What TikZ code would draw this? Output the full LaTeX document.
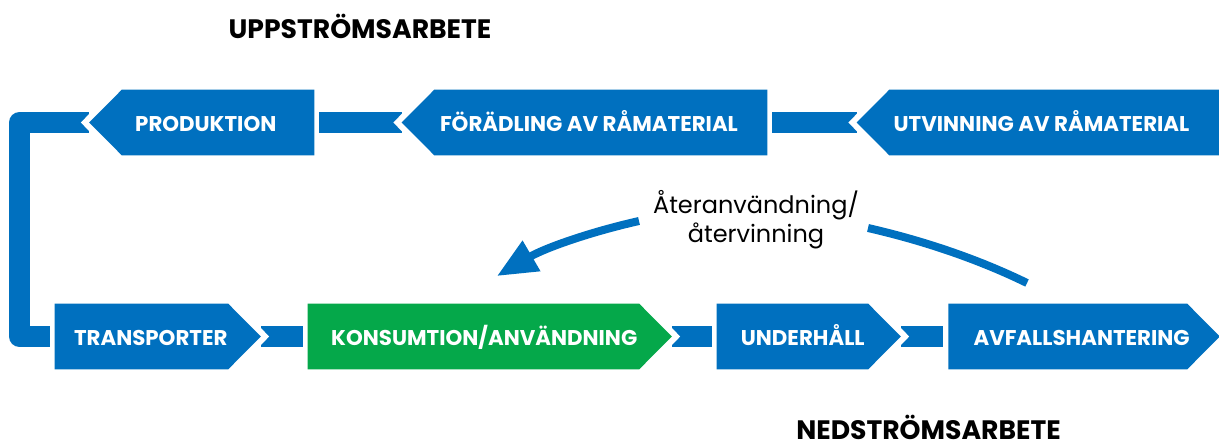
\documentclass[tikz,border=0pt]{standalone}
\usepackage{fontspec}
\setmainfont{Poppins}
\usetikzlibrary{arrows.meta}
\definecolor{flowblue}{HTML}{0070BF}
\definecolor{flowgreen}{HTML}{05A84A}
\pgfdeclarelayer{bandlayer}
\pgfdeclarelayer{halolayer}
\pgfdeclarelayer{filllayer}
\pgfsetlayers{bandlayer,halolayer,filllayer,main}
\tikzset{
  x=0.75pt,y=-0.75pt,
  stagebox/.style={minimum height=48.75pt,inner sep=0pt,text=white,
    font=\fontsize{16}{19}\selectfont\bfseries,text height=13.6pt,text depth=0pt},
  band/.style={draw=flowblue,line width=15.75pt,line join=round},
  halo/.style={draw=white,line width=9pt,line join=miter,miter limit=10},
  title/.style={inner sep=0pt,anchor=base,font=\fontsize{20}{24}\selectfont\bfseries,text=black},
  note/.style={inner sep=0pt,align=center,text=black,font=\fontsize{18}{21.75}\selectfont},
  loopline/.style={draw=flowblue,line width=6pt}
}
% #1 name, #2 colour, #3 left x, #4 right x, #5 centre y, #6 left kern, #7 right kern, #8 text
\newcommand{\stagenode}[8]{%
  \node[stagebox,minimum width={(#4-#3)*0.75pt}] (#1) at ({(#3+#4)/2},#5) {\hspace*{#6pt}#8\hspace*{#7pt}};}
\newcommand{\leftshape}[2]{%
  \begin{pgfonlayer}{halolayer}
    \draw[halo] ([xshift=24.375pt]#1.north west) -- (#1.west) -- ([xshift=24.375pt]#1.south west);
  \end{pgfonlayer}
  \begin{pgfonlayer}{filllayer}
    \fill[#2] (#1.west) -- ([xshift=24.375pt]#1.north west) -- (#1.north east) -- (#1.south east) -- ([xshift=24.375pt]#1.south west) -- cycle;
  \end{pgfonlayer}}
\newcommand{\rightshape}[2]{%
  \begin{pgfonlayer}{halolayer}
    \draw[halo] ([xshift=-24.375pt]#1.north east) -- (#1.east) -- ([xshift=-24.375pt]#1.south east);
  \end{pgfonlayer}
  \begin{pgfonlayer}{filllayer}
    \fill[#2] (#1.east) -- ([xshift=-24.375pt]#1.north east) -- (#1.north west) -- (#1.south west) -- ([xshift=-24.375pt]#1.south east) -- cycle;
  \end{pgfonlayer}}
\begin{document}
\begin{tikzpicture}
\useasboundingbox (0,0) rectangle (1219,443);
\node[title] (up) at (360,38) {UPPSTRÖMSARBETE};
\node[title] (down) at (928.5,439.5) {NEDSTRÖMSARBETE};

\stagenode{produktion}{flowblue}{89.5}{314}{122.5}{6}{0}{PRODUKTION}
\stagenode{foradling}{flowblue}{402}{767}{122.5}{6.75}{0}{FÖRÄDLING AV RÅMATERIAL}
\stagenode{utvinning}{flowblue}{857}{1219}{122.5}{5.25}{0}{UTVINNING AV RÅMATERIAL}
\stagenode{transport}{flowblue}{55}{260.5}{336.5}{0}{10.5}{TRANSPORTER}
\stagenode{konsum}{flowgreen}{308}{671.5}{336.5}{0}{8.25}{KONSUMTION/ANVÄNDNING}
\stagenode{underhall}{flowblue}{717}{900.5}{336.5}{0}{9}{UNDERHÅLL}
\stagenode{avfall}{flowblue}{948.7}{1219.5}{336.5}{0}{3.75}{AVFALLSHANTERING}

\leftshape{produktion}{flowblue}
\leftshape{foradling}{flowblue}
\leftshape{utvinning}{flowblue}
\rightshape{transport}{flowblue}
\rightshape{konsum}{flowgreen}
\rightshape{underhall}{flowblue}
\rightshape{avfall}{flowblue}

\coordinate (rail) at (19.5,230);
\begin{pgfonlayer}{bandlayer}
  \draw[band,shorten >=3.9pt] (utvinning.west) -- (foradling.east);
  \draw[band,shorten >=3.9pt] (foradling.west) -- (produktion.east);
  \draw[band,shorten >=3.9pt] (produktion.west) -| (rail) |- (transport.west);
  \draw[band,shorten >=3.9pt] (transport.east) -- (konsum.west);
  \draw[band,shorten >=3.9pt] (konsum.east) -- (underhall.west);
  \draw[band,shorten >=3.9pt] (underhall.east) -- (avfall.west);
\end{pgfonlayer}

\node[note] (reuse) at (756,220) {Återanvändning/\\återvinning};
\coordinate (loopA) at (639,221);
\coordinate (loopB) at (497,276);
\coordinate (loopC) at (868,228);
\coordinate (loopD) at (1027,283);
\draw[loopline,-{Triangle[length=30pt,width=25pt]}] (loopA) .. controls (590,232) and (545,248) .. (loopB);
\draw[loopline] (loopC) .. controls (925,241) and (980,260) .. (loopD);
\end{tikzpicture}
\end{document}
